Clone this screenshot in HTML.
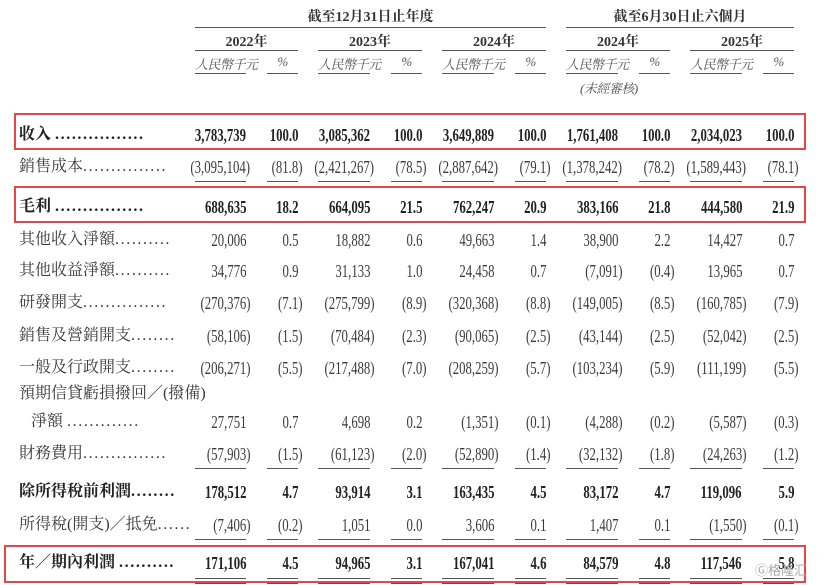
<!DOCTYPE html>
<html><head><meta charset="utf-8"><style>
body{margin:0;width:830px;height:585px;background:#fff;position:relative;overflow:hidden;font-family:"Liberation Serif","Noto Serif CJK SC",serif;color:#3a3a3a}
.a{position:absolute}
.r{position:absolute;left:0;width:830px;height:22px}
.r>span{position:absolute;top:0;line-height:22px;font-size:18px;white-space:nowrap;transform:scaleX(0.71);transform-origin:right center}
.r>span.l{left:19px;transform:none;font-size:16px}
.r>span.l i{font-style:normal;letter-spacing:1.6px}
.r>span:nth-child(2){right:584px}.r>span:nth-child(3){right:532px}
.r>span:nth-child(4){right:460px}.r>span:nth-child(5){right:408px}
.r>span:nth-child(6){right:336px}.r>span:nth-child(7){right:284px}
.r>span:nth-child(8){right:212px}.r>span:nth-child(9){right:160px}
.r>span:nth-child(10){right:88px}.r>span:nth-child(11){right:36px}
.r>span.p{margin-right:-4px}
.b>span{font-weight:bold;color:#222}
.hl{position:absolute;height:1px;background:#555}
.box{position:absolute;border:2px solid #e8454a;box-sizing:border-box}
.h{position:absolute;font-size:14px;font-weight:bold;color:#333;text-align:center;white-space:nowrap}
.u{position:absolute;font-size:13px;font-style:italic;color:#555;text-align:center;white-space:nowrap;letter-spacing:-0.5px}
</style></head><body>
<div class="h" style="left:195px;width:351px;top:6px">截至12月31日止年度</div>
<div class="h" style="left:566px;width:228px;top:6px">截至6月30日止六個月</div>
<div class="hl" style="left:195px;width:351px;top:27px"></div>
<div class="hl" style="left:566px;width:228px;top:27px"></div>
<div class="h" style="left:195px;width:103px;top:31px">2022年</div>
<div class="h" style="left:318px;width:104px;top:31px">2023年</div>
<div class="h" style="left:442px;width:104px;top:31px">2024年</div>
<div class="h" style="left:566px;width:104px;top:31px">2024年</div>
<div class="h" style="left:690px;width:104px;top:31px">2025年</div>
<div class="hl" style="left:195px;width:103px;top:50px"></div>
<div class="hl" style="left:318px;width:104px;top:50px"></div>
<div class="hl" style="left:442px;width:104px;top:50px"></div>
<div class="hl" style="left:566px;width:104px;top:50px"></div>
<div class="hl" style="left:690px;width:104px;top:50px"></div>
<div class="u" style="left:195px;top:54px;text-align:left">人民幣千元</div><div class="u" style="left:267px;width:31px;top:54px">%</div>
<div class="u" style="left:318px;top:54px;text-align:left">人民幣千元</div><div class="u" style="left:391px;width:31px;top:54px">%</div>
<div class="u" style="left:442px;top:54px;text-align:left">人民幣千元</div><div class="u" style="left:515px;width:31px;top:54px">%</div>
<div class="u" style="left:566px;top:54px;text-align:left">人民幣千元</div><div class="u" style="left:639px;width:31px;top:54px">%</div>
<div class="u" style="left:690px;top:54px;text-align:left">人民幣千元</div><div class="u" style="left:763px;width:31px;top:54px">%</div>
<div class="u" style="left:580px;top:78px;text-align:left">(未經審核)</div>
<div class="hl" style="left:195px;width:51px;top:73px"></div><div class="hl" style="left:267px;width:31px;top:73px"></div>
<div class="hl" style="left:318px;width:52px;top:73px"></div><div class="hl" style="left:391px;width:31px;top:73px"></div>
<div class="hl" style="left:442px;width:52px;top:73px"></div><div class="hl" style="left:515px;width:31px;top:73px"></div>
<div class="hl" style="left:566px;width:52px;top:73px"></div><div class="hl" style="left:639px;width:31px;top:73px"></div>
<div class="hl" style="left:690px;width:52px;top:73px"></div><div class="hl" style="left:763px;width:31px;top:73px"></div>

<div class="r b" style="top:124px"><span class="l">收入 <i>................</i></span><span>3,783,739</span><span>100.0</span><span>3,085,362</span><span>100.0</span><span>3,649,889</span><span>100.0</span><span>1,761,408</span><span>100.0</span><span>2,034,023</span><span>100.0</span></div>
<div class="r" style="top:156px"><span class="l">銷售成本<i>...............</i></span><span class="p">(3,095,104)</span><span class="p">(81.8)</span><span class="p">(2,421,267)</span><span class="p">(78.5)</span><span class="p">(2,887,642)</span><span class="p">(79.1)</span><span class="p">(1,378,242)</span><span class="p">(78.2)</span><span class="p">(1,589,443)</span><span class="p">(78.1)</span></div>
<div class="r b" style="top:196px"><span class="l">毛利 <i>................</i></span><span>688,635</span><span>18.2</span><span>664,095</span><span>21.5</span><span>762,247</span><span>20.9</span><span>383,166</span><span>21.8</span><span>444,580</span><span>21.9</span></div>
<div class="r" style="top:229px"><span class="l">其他收入淨額<i>..........</i></span><span>20,006</span><span>0.5</span><span>18,882</span><span>0.6</span><span>49,663</span><span>1.4</span><span>38,900</span><span>2.2</span><span>14,427</span><span>0.7</span></div>
<div class="r" style="top:260px"><span class="l">其他收益淨額<i>..........</i></span><span>34,776</span><span>0.9</span><span>31,133</span><span>1.0</span><span>24,458</span><span>0.7</span><span class="p">(7,091)</span><span class="p">(0.4)</span><span>13,965</span><span>0.7</span></div>
<div class="r" style="top:292px"><span class="l">研發開支<i>...............</i></span><span class="p">(270,376)</span><span class="p">(7.1)</span><span class="p">(275,799)</span><span class="p">(8.9)</span><span class="p">(320,368)</span><span class="p">(8.8)</span><span class="p">(149,005)</span><span class="p">(8.5)</span><span class="p">(160,785)</span><span class="p">(7.9)</span></div>
<div class="r" style="top:325px"><span class="l">銷售及營銷開支<i>........</i></span><span class="p">(58,106)</span><span class="p">(1.5)</span><span class="p">(70,484)</span><span class="p">(2.3)</span><span class="p">(90,065)</span><span class="p">(2.5)</span><span class="p">(43,144)</span><span class="p">(2.5)</span><span class="p">(52,042)</span><span class="p">(2.5)</span></div>
<div class="r" style="top:357px"><span class="l">一般及行政開支<i>........</i></span><span class="p">(206,271)</span><span class="p">(5.5)</span><span class="p">(217,488)</span><span class="p">(7.0)</span><span class="p">(208,259)</span><span class="p">(5.7)</span><span class="p">(103,234)</span><span class="p">(5.9)</span><span class="p">(111,199)</span><span class="p">(5.5)</span></div>
<div class="r" style="top:383px"><span class="l">預期信貸虧損撥回／(撥備)</span></div>
<div class="r" style="top:411px"><span class="l">&nbsp;&nbsp;&nbsp;淨額 <i>.............</i></span><span>27,751</span><span>0.7</span><span>4,698</span><span>0.2</span><span class="p">(1,351)</span><span class="p">(0.1)</span><span class="p">(4,288)</span><span class="p">(0.2)</span><span class="p">(5,587)</span><span class="p">(0.3)</span></div>
<div class="r" style="top:443px"><span class="l">財務費用<i>...............</i></span><span class="p">(57,903)</span><span class="p">(1.5)</span><span class="p">(61,123)</span><span class="p">(2.0)</span><span class="p">(52,890)</span><span class="p">(1.4)</span><span class="p">(32,132)</span><span class="p">(1.8)</span><span class="p">(24,263)</span><span class="p">(1.2)</span></div>
<div class="r b" style="top:481px"><span class="l">除所得稅前利潤<i>........</i></span><span>178,512</span><span>4.7</span><span>93,914</span><span>3.1</span><span>163,435</span><span>4.5</span><span>83,172</span><span>4.7</span><span>119,096</span><span>5.9</span></div>
<div class="r" style="top:514px"><span class="l">所得稅(開支)／抵免<i>......</i></span><span class="p">(7,406)</span><span class="p">(0.2)</span><span>1,051</span><span>0.0</span><span>3,606</span><span>0.1</span><span>1,407</span><span>0.1</span><span class="p">(1,550)</span><span class="p">(0.1)</span></div>
<div class="r b" style="top:552px"><span class="l">年／期內利潤 <i>..........</i></span><span>171,106</span><span>4.5</span><span>94,965</span><span>3.1</span><span>167,041</span><span>4.6</span><span>84,579</span><span>4.8</span><span>117,546</span><span>5.8</span></div>

<div class="hl" style="left:195px;width:51px;top:181px"></div><div class="hl" style="left:267px;width:31px;top:181px"></div>
<div class="hl" style="left:318px;width:52px;top:181px"></div><div class="hl" style="left:391px;width:31px;top:181px"></div>
<div class="hl" style="left:442px;width:52px;top:181px"></div><div class="hl" style="left:515px;width:31px;top:181px"></div>
<div class="hl" style="left:566px;width:52px;top:181px"></div><div class="hl" style="left:639px;width:31px;top:181px"></div>
<div class="hl" style="left:690px;width:52px;top:181px"></div><div class="hl" style="left:763px;width:31px;top:181px"></div>

<div class="hl" style="left:195px;width:51px;top:468px"></div><div class="hl" style="left:267px;width:31px;top:468px"></div>
<div class="hl" style="left:318px;width:52px;top:468px"></div><div class="hl" style="left:391px;width:31px;top:468px"></div>
<div class="hl" style="left:442px;width:52px;top:468px"></div><div class="hl" style="left:515px;width:31px;top:468px"></div>
<div class="hl" style="left:566px;width:52px;top:468px"></div><div class="hl" style="left:639px;width:31px;top:468px"></div>
<div class="hl" style="left:690px;width:52px;top:468px"></div><div class="hl" style="left:763px;width:31px;top:468px"></div>

<div class="hl" style="left:195px;width:51px;top:539px"></div><div class="hl" style="left:267px;width:31px;top:539px"></div>
<div class="hl" style="left:318px;width:52px;top:539px"></div><div class="hl" style="left:391px;width:31px;top:539px"></div>
<div class="hl" style="left:442px;width:52px;top:539px"></div><div class="hl" style="left:515px;width:31px;top:539px"></div>
<div class="hl" style="left:566px;width:52px;top:539px"></div><div class="hl" style="left:639px;width:31px;top:539px"></div>
<div class="hl" style="left:690px;width:52px;top:539px"></div><div class="hl" style="left:763px;width:31px;top:539px"></div>

<div class="hl" style="left:195px;width:51px;top:578px;height:4px;background:none;border-top:1px solid #555;border-bottom:1px solid #555"></div><div class="hl" style="left:267px;width:31px;top:578px;height:4px;background:none;border-top:1px solid #555;border-bottom:1px solid #555"></div>
<div class="hl" style="left:318px;width:52px;top:578px;height:4px;background:none;border-top:1px solid #555;border-bottom:1px solid #555"></div><div class="hl" style="left:391px;width:31px;top:578px;height:4px;background:none;border-top:1px solid #555;border-bottom:1px solid #555"></div>
<div class="hl" style="left:442px;width:52px;top:578px;height:4px;background:none;border-top:1px solid #555;border-bottom:1px solid #555"></div><div class="hl" style="left:515px;width:31px;top:578px;height:4px;background:none;border-top:1px solid #555;border-bottom:1px solid #555"></div>
<div class="hl" style="left:566px;width:52px;top:578px;height:4px;background:none;border-top:1px solid #555;border-bottom:1px solid #555"></div><div class="hl" style="left:639px;width:31px;top:578px;height:4px;background:none;border-top:1px solid #555;border-bottom:1px solid #555"></div>
<div class="hl" style="left:690px;width:52px;top:578px;height:4px;background:none;border-top:1px solid #555;border-bottom:1px solid #555"></div><div class="hl" style="left:763px;width:31px;top:578px;height:4px;background:none;border-top:1px solid #555;border-bottom:1px solid #555"></div>

<div class="box" style="left:14px;top:113px;width:792px;height:37px"></div>
<div class="box" style="left:14px;top:186px;width:792px;height:37px"></div>
<div class="box" style="left:4px;top:545px;width:802px;height:38px"></div>
<div class="a" style="left:755px;top:560px;font-size:13px;color:#aaa;font-family:'Liberation Sans','Noto Sans CJK SC',sans-serif">Ⓖ格隆汇</div>
</body></html>
